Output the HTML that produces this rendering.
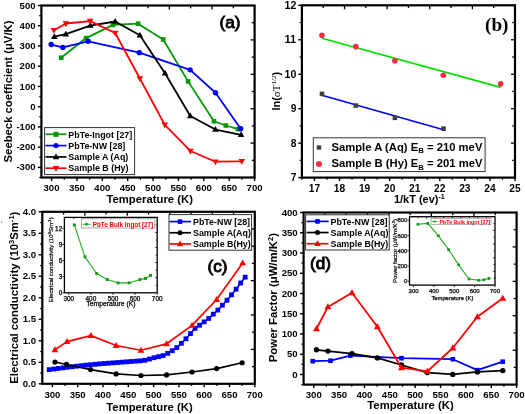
<!DOCTYPE html>
<html><head><meta charset="utf-8"><style>
html,body{margin:0;padding:0;background:#fff;overflow:hidden;width:525px;height:414px;}
svg{display:block;filter:blur(0.3px);}
</style></head><body>
<svg width="525" height="414" viewBox="0 0 525 414">
<rect width="525" height="414" fill="#fff"/>
<line x1="41.4" y1="177.5" x2="39.2" y2="177.5" stroke="#000" stroke-width="1.2" />
<line x1="41.4" y1="167.38" x2="37.8" y2="167.38" stroke="#000" stroke-width="1.4" />
<text x="35.6" y="170.48" font-family="Liberation Sans, sans-serif" font-size="9.6" font-weight="bold" text-anchor="end" fill="#000" >-300</text>
<line x1="41.4" y1="157.26" x2="39.2" y2="157.26" stroke="#000" stroke-width="1.2" />
<line x1="41.4" y1="147.15" x2="37.8" y2="147.15" stroke="#000" stroke-width="1.4" />
<text x="35.6" y="150.25" font-family="Liberation Sans, sans-serif" font-size="9.6" font-weight="bold" text-anchor="end" fill="#000" >-200</text>
<line x1="41.4" y1="137.03" x2="39.2" y2="137.03" stroke="#000" stroke-width="1.2" />
<line x1="41.4" y1="126.91" x2="37.8" y2="126.91" stroke="#000" stroke-width="1.4" />
<text x="35.6" y="130.01" font-family="Liberation Sans, sans-serif" font-size="9.6" font-weight="bold" text-anchor="end" fill="#000" >-100</text>
<line x1="41.4" y1="116.79" x2="39.2" y2="116.79" stroke="#000" stroke-width="1.2" />
<line x1="41.4" y1="106.68" x2="37.8" y2="106.68" stroke="#000" stroke-width="1.4" />
<text x="35.6" y="109.78" font-family="Liberation Sans, sans-serif" font-size="9.6" font-weight="bold" text-anchor="end" fill="#000" >0</text>
<line x1="41.4" y1="96.56" x2="39.2" y2="96.56" stroke="#000" stroke-width="1.2" />
<line x1="41.4" y1="86.44" x2="37.8" y2="86.44" stroke="#000" stroke-width="1.4" />
<text x="35.6" y="89.54" font-family="Liberation Sans, sans-serif" font-size="9.6" font-weight="bold" text-anchor="end" fill="#000" >100</text>
<line x1="41.4" y1="76.32" x2="39.2" y2="76.32" stroke="#000" stroke-width="1.2" />
<line x1="41.4" y1="66.21" x2="37.8" y2="66.21" stroke="#000" stroke-width="1.4" />
<text x="35.6" y="69.31" font-family="Liberation Sans, sans-serif" font-size="9.6" font-weight="bold" text-anchor="end" fill="#000" >200</text>
<line x1="41.4" y1="56.09" x2="39.2" y2="56.09" stroke="#000" stroke-width="1.2" />
<line x1="41.4" y1="45.97" x2="37.8" y2="45.97" stroke="#000" stroke-width="1.4" />
<text x="35.6" y="49.07" font-family="Liberation Sans, sans-serif" font-size="9.6" font-weight="bold" text-anchor="end" fill="#000" >300</text>
<line x1="41.4" y1="35.85" x2="39.2" y2="35.85" stroke="#000" stroke-width="1.2" />
<line x1="41.4" y1="25.74" x2="37.8" y2="25.74" stroke="#000" stroke-width="1.4" />
<text x="35.6" y="28.84" font-family="Liberation Sans, sans-serif" font-size="9.6" font-weight="bold" text-anchor="end" fill="#000" >400</text>
<line x1="41.4" y1="15.62" x2="39.2" y2="15.62" stroke="#000" stroke-width="1.2" />
<line x1="41.4" y1="5.5" x2="37.8" y2="5.5" stroke="#000" stroke-width="1.4" />
<text x="35.6" y="8.6" font-family="Liberation Sans, sans-serif" font-size="9.6" font-weight="bold" text-anchor="end" fill="#000" >500</text>
<line x1="51.55" y1="177.5" x2="51.55" y2="180.9" stroke="#000" stroke-width="1.4" />
<text x="51.55" y="190.8" font-family="Liberation Sans, sans-serif" font-size="9.6" font-weight="bold" text-anchor="middle" fill="#000" >300</text>
<line x1="64.24" y1="177.5" x2="64.24" y2="179.7" stroke="#000" stroke-width="1.2" />
<line x1="76.93" y1="177.5" x2="76.93" y2="180.9" stroke="#000" stroke-width="1.4" />
<text x="76.93" y="190.8" font-family="Liberation Sans, sans-serif" font-size="9.6" font-weight="bold" text-anchor="middle" fill="#000" >350</text>
<line x1="89.62" y1="177.5" x2="89.62" y2="179.7" stroke="#000" stroke-width="1.2" />
<line x1="102.31" y1="177.5" x2="102.31" y2="180.9" stroke="#000" stroke-width="1.4" />
<text x="102.31" y="190.8" font-family="Liberation Sans, sans-serif" font-size="9.6" font-weight="bold" text-anchor="middle" fill="#000" >400</text>
<line x1="115" y1="177.5" x2="115" y2="179.7" stroke="#000" stroke-width="1.2" />
<line x1="127.7" y1="177.5" x2="127.7" y2="180.9" stroke="#000" stroke-width="1.4" />
<text x="127.7" y="190.8" font-family="Liberation Sans, sans-serif" font-size="9.6" font-weight="bold" text-anchor="middle" fill="#000" >450</text>
<line x1="140.39" y1="177.5" x2="140.39" y2="179.7" stroke="#000" stroke-width="1.2" />
<line x1="153.08" y1="177.5" x2="153.08" y2="180.9" stroke="#000" stroke-width="1.4" />
<text x="153.08" y="190.8" font-family="Liberation Sans, sans-serif" font-size="9.6" font-weight="bold" text-anchor="middle" fill="#000" >500</text>
<line x1="165.77" y1="177.5" x2="165.77" y2="179.7" stroke="#000" stroke-width="1.2" />
<line x1="178.46" y1="177.5" x2="178.46" y2="180.9" stroke="#000" stroke-width="1.4" />
<text x="178.46" y="190.8" font-family="Liberation Sans, sans-serif" font-size="9.6" font-weight="bold" text-anchor="middle" fill="#000" >550</text>
<line x1="191.15" y1="177.5" x2="191.15" y2="179.7" stroke="#000" stroke-width="1.2" />
<line x1="203.84" y1="177.5" x2="203.84" y2="180.9" stroke="#000" stroke-width="1.4" />
<text x="203.84" y="190.8" font-family="Liberation Sans, sans-serif" font-size="9.6" font-weight="bold" text-anchor="middle" fill="#000" >600</text>
<line x1="216.53" y1="177.5" x2="216.53" y2="179.7" stroke="#000" stroke-width="1.2" />
<line x1="229.22" y1="177.5" x2="229.22" y2="180.9" stroke="#000" stroke-width="1.4" />
<text x="229.22" y="190.8" font-family="Liberation Sans, sans-serif" font-size="9.6" font-weight="bold" text-anchor="middle" fill="#000" >650</text>
<line x1="241.91" y1="177.5" x2="241.91" y2="179.7" stroke="#000" stroke-width="1.2" />
<line x1="254.6" y1="177.5" x2="254.6" y2="180.9" stroke="#000" stroke-width="1.4" />
<text x="254.6" y="190.8" font-family="Liberation Sans, sans-serif" font-size="9.6" font-weight="bold" text-anchor="middle" fill="#000" >700</text>
<line x1="62.72" y1="5.5" x2="62.72" y2="8.3" stroke="#000" stroke-width="1.3" />
<line x1="84.04" y1="5.5" x2="84.04" y2="9.5" stroke="#000" stroke-width="1.3" />
<line x1="105.36" y1="5.5" x2="105.36" y2="8.3" stroke="#000" stroke-width="1.3" />
<line x1="126.68" y1="5.5" x2="126.68" y2="9.5" stroke="#000" stroke-width="1.3" />
<line x1="148" y1="5.5" x2="148" y2="8.3" stroke="#000" stroke-width="1.3" />
<line x1="169.32" y1="5.5" x2="169.32" y2="9.5" stroke="#000" stroke-width="1.3" />
<line x1="190.64" y1="5.5" x2="190.64" y2="8.3" stroke="#000" stroke-width="1.3" />
<line x1="211.96" y1="5.5" x2="211.96" y2="9.5" stroke="#000" stroke-width="1.3" />
<line x1="233.28" y1="5.5" x2="233.28" y2="8.3" stroke="#000" stroke-width="1.3" />
<line x1="254.6" y1="22.7" x2="251.8" y2="22.7" stroke="#000" stroke-width="1.3" />
<line x1="254.6" y1="39.9" x2="250.6" y2="39.9" stroke="#000" stroke-width="1.3" />
<line x1="254.6" y1="57.1" x2="251.8" y2="57.1" stroke="#000" stroke-width="1.3" />
<line x1="254.6" y1="74.3" x2="250.6" y2="74.3" stroke="#000" stroke-width="1.3" />
<line x1="254.6" y1="91.5" x2="251.8" y2="91.5" stroke="#000" stroke-width="1.3" />
<line x1="254.6" y1="108.7" x2="250.6" y2="108.7" stroke="#000" stroke-width="1.3" />
<line x1="254.6" y1="125.9" x2="251.8" y2="125.9" stroke="#000" stroke-width="1.3" />
<line x1="254.6" y1="143.1" x2="250.6" y2="143.1" stroke="#000" stroke-width="1.3" />
<line x1="254.6" y1="160.3" x2="251.8" y2="160.3" stroke="#000" stroke-width="1.3" />
<rect x="41.4" y="5.5" width="213.2" height="172" fill="none" stroke="#000" stroke-width="2.2"/>
<polyline points="61.2,57.71 86.07,38.08 112.97,24.93 138.1,23.71 163.23,39.5 188.1,81.38 213.99,121.25 225.82,125.5 238,129.14" fill="none" stroke="#009900" stroke-width="1.8" stroke-linejoin="round"/>
<rect x="58.9" y="55.41" width="4.6" height="4.6" fill="#009900"/>
<rect x="83.77" y="35.78" width="4.6" height="4.6" fill="#009900"/>
<rect x="110.67" y="22.63" width="4.6" height="4.6" fill="#009900"/>
<rect x="135.8" y="21.41" width="4.6" height="4.6" fill="#009900"/>
<rect x="160.93" y="37.2" width="4.6" height="4.6" fill="#009900"/>
<rect x="185.8" y="79.08" width="4.6" height="4.6" fill="#009900"/>
<rect x="211.69" y="118.95" width="4.6" height="4.6" fill="#009900"/>
<rect x="223.52" y="123.2" width="4.6" height="4.6" fill="#009900"/>
<rect x="235.7" y="126.84" width="4.6" height="4.6" fill="#009900"/>
<polyline points="51.2,44.55 62.82,47.39 88.1,41.32 139.37,52.65 190.13,69.85 215.51,92.71 240.69,128.73" fill="none" stroke="#0000ff" stroke-width="1.8" stroke-linejoin="round"/>
<circle cx="51.2" cy="44.55" r="2.7" fill="#0000ff"/>
<circle cx="62.82" cy="47.39" r="2.7" fill="#0000ff"/>
<circle cx="88.1" cy="41.32" r="2.7" fill="#0000ff"/>
<circle cx="139.37" cy="52.65" r="2.7" fill="#0000ff"/>
<circle cx="190.13" cy="69.85" r="2.7" fill="#0000ff"/>
<circle cx="215.51" cy="92.71" r="2.7" fill="#0000ff"/>
<circle cx="240.69" cy="128.73" r="2.7" fill="#0000ff"/>
<polyline points="54.29,36.66 65.77,34.11 90.33,25.53 115.16,21.49 139.88,35.25 165.01,73.29 190.28,115.98 215.46,129.54 241.1,134.8" fill="none" stroke="#000000" stroke-width="1.8" stroke-linejoin="round"/>
<polygon points="54.29,33.22 57.59,38.96 50.99,38.96" fill="#000000"/>
<polygon points="65.77,30.67 69.07,36.41 62.47,36.41" fill="#000000"/>
<polygon points="90.33,22.09 93.63,27.83 87.03,27.83" fill="#000000"/>
<polygon points="115.16,18.04 118.46,23.78 111.86,23.78" fill="#000000"/>
<polygon points="139.88,31.8 143.18,37.54 136.58,37.54" fill="#000000"/>
<polygon points="165.01,69.84 168.31,75.59 161.71,75.59" fill="#000000"/>
<polygon points="190.28,112.54 193.58,118.28 186.98,118.28" fill="#000000"/>
<polygon points="215.46,126.1 218.76,131.84 212.16,131.84" fill="#000000"/>
<polygon points="241.1,131.36 244.4,137.1 237.8,137.1" fill="#000000"/>
<polyline points="53.89,30.19 65.92,23.51 90.13,21.08 115.16,33.02 139.88,78.55 164.8,124.89 190.39,150.99 215.46,161.72 241.76,161.31" fill="none" stroke="#ff0000" stroke-width="1.8" stroke-linejoin="round"/>
<polygon points="53.89,33.63 57.19,27.89 50.59,27.89" fill="#ff0000"/>
<polygon points="65.92,26.95 69.22,21.21 62.62,21.21" fill="#ff0000"/>
<polygon points="90.13,24.53 93.43,18.78 86.83,18.78" fill="#ff0000"/>
<polygon points="115.16,36.47 118.46,30.72 111.86,30.72" fill="#ff0000"/>
<polygon points="139.88,81.99 143.18,76.25 136.58,76.25" fill="#ff0000"/>
<polygon points="164.8,128.33 168.1,122.59 161.5,122.59" fill="#ff0000"/>
<polygon points="190.39,154.44 193.69,148.69 187.09,148.69" fill="#ff0000"/>
<polygon points="215.46,165.16 218.76,159.42 212.16,159.42" fill="#ff0000"/>
<polygon points="241.76,164.76 245.06,159.01 238.46,159.01" fill="#ff0000"/>
<rect x="44.6" y="127.6" width="90" height="47" fill="#fff" stroke="#333" stroke-width="1"/>
<line x1="45.5" y1="134.3" x2="66.5" y2="134.3" stroke="#009900" stroke-width="1.7" />
<rect x="53.5" y="131.8" width="5" height="5" fill="#009900"/>
<text x="68.3" y="137.5" font-family="Liberation Sans, sans-serif" font-size="8.9" font-weight="bold" text-anchor="start" fill="#000" >PbTe-Ingot [27]</text>
<line x1="45.5" y1="145.6" x2="66.5" y2="145.6" stroke="#0000ff" stroke-width="1.7" />
<circle cx="56" cy="145.6" r="2.6" fill="#0000ff"/>
<text x="68.3" y="148.8" font-family="Liberation Sans, sans-serif" font-size="8.9" font-weight="bold" text-anchor="start" fill="#000" >PbTe-NW [28]</text>
<line x1="45.5" y1="156.9" x2="66.5" y2="156.9" stroke="#000000" stroke-width="1.7" />
<polygon points="56,153.45 59.3,159.2 52.7,159.2" fill="#000000"/>
<text x="68.3" y="160.1" font-family="Liberation Sans, sans-serif" font-size="8.9" font-weight="bold" text-anchor="start" fill="#000" >Sample A (Aq)</text>
<line x1="45.5" y1="168.2" x2="66.5" y2="168.2" stroke="#ff0000" stroke-width="1.7" />
<polygon points="56,171.65 59.3,165.9 52.7,165.9" fill="#ff0000"/>
<text x="68.3" y="171.4" font-family="Liberation Sans, sans-serif" font-size="8.9" font-weight="bold" text-anchor="start" fill="#000" >Sample B (Hy)</text>
<text x="149.7" y="202.8" font-family="Liberation Sans, sans-serif" font-size="11.3" font-weight="bold" text-anchor="middle" fill="#000" >Temperature (K)</text>
<text x="12.2" y="91.5" font-family="Liberation Sans, sans-serif" font-size="11.3" font-weight="bold" text-anchor="middle" fill="#000" transform="rotate(-90 12.2 91.5)" >Seebeck coefficient (μV/K)</text>
<text x="230" y="28.4" font-family="Liberation Sans, sans-serif" font-size="17.2" font-weight="normal" text-anchor="middle" fill="#000" stroke="#000" stroke-width="0.9">(a)</text>
<line x1="301.9" y1="177.6" x2="298.3" y2="177.6" stroke="#000" stroke-width="1.4" />
<text x="296.3" y="181.2" font-family="Liberation Sans, sans-serif" font-size="10.2" font-weight="bold" text-anchor="end" fill="#000" >7</text>
<line x1="301.9" y1="160.37" x2="299.7" y2="160.37" stroke="#000" stroke-width="1.2" />
<line x1="301.9" y1="143.14" x2="298.3" y2="143.14" stroke="#000" stroke-width="1.4" />
<text x="296.3" y="146.74" font-family="Liberation Sans, sans-serif" font-size="10.2" font-weight="bold" text-anchor="end" fill="#000" >8</text>
<line x1="301.9" y1="125.91" x2="299.7" y2="125.91" stroke="#000" stroke-width="1.2" />
<line x1="301.9" y1="108.68" x2="298.3" y2="108.68" stroke="#000" stroke-width="1.4" />
<text x="296.3" y="112.28" font-family="Liberation Sans, sans-serif" font-size="10.2" font-weight="bold" text-anchor="end" fill="#000" >9</text>
<line x1="301.9" y1="91.45" x2="299.7" y2="91.45" stroke="#000" stroke-width="1.2" />
<line x1="301.9" y1="74.22" x2="298.3" y2="74.22" stroke="#000" stroke-width="1.4" />
<text x="296.3" y="77.82" font-family="Liberation Sans, sans-serif" font-size="10.2" font-weight="bold" text-anchor="end" fill="#000"  textLength="11.8" lengthAdjust="spacingAndGlyphs">10</text>
<line x1="301.9" y1="56.99" x2="299.7" y2="56.99" stroke="#000" stroke-width="1.2" />
<line x1="301.9" y1="39.76" x2="298.3" y2="39.76" stroke="#000" stroke-width="1.4" />
<text x="296.3" y="43.36" font-family="Liberation Sans, sans-serif" font-size="10.2" font-weight="bold" text-anchor="end" fill="#000"  textLength="11.8" lengthAdjust="spacingAndGlyphs">11</text>
<line x1="301.9" y1="22.53" x2="299.7" y2="22.53" stroke="#000" stroke-width="1.2" />
<line x1="301.9" y1="5.3" x2="298.3" y2="5.3" stroke="#000" stroke-width="1.4" />
<text x="296.3" y="8.9" font-family="Liberation Sans, sans-serif" font-size="10.2" font-weight="bold" text-anchor="end" fill="#000"  textLength="11.8" lengthAdjust="spacingAndGlyphs">12</text>
<line x1="301.9" y1="177.6" x2="301.9" y2="179.8" stroke="#000" stroke-width="1.2" />
<line x1="314.44" y1="177.6" x2="314.44" y2="181" stroke="#000" stroke-width="1.4" />
<text x="314.44" y="191.6" font-family="Liberation Sans, sans-serif" font-size="10.2" font-weight="bold" text-anchor="middle" fill="#000" >17</text>
<line x1="326.97" y1="177.6" x2="326.97" y2="179.8" stroke="#000" stroke-width="1.2" />
<line x1="339.51" y1="177.6" x2="339.51" y2="181" stroke="#000" stroke-width="1.4" />
<text x="339.51" y="191.6" font-family="Liberation Sans, sans-serif" font-size="10.2" font-weight="bold" text-anchor="middle" fill="#000" >18</text>
<line x1="352.04" y1="177.6" x2="352.04" y2="179.8" stroke="#000" stroke-width="1.2" />
<line x1="364.58" y1="177.6" x2="364.58" y2="181" stroke="#000" stroke-width="1.4" />
<text x="364.58" y="191.6" font-family="Liberation Sans, sans-serif" font-size="10.2" font-weight="bold" text-anchor="middle" fill="#000" >19</text>
<line x1="377.11" y1="177.6" x2="377.11" y2="179.8" stroke="#000" stroke-width="1.2" />
<line x1="389.65" y1="177.6" x2="389.65" y2="181" stroke="#000" stroke-width="1.4" />
<text x="389.65" y="191.6" font-family="Liberation Sans, sans-serif" font-size="10.2" font-weight="bold" text-anchor="middle" fill="#000" >20</text>
<line x1="402.18" y1="177.6" x2="402.18" y2="179.8" stroke="#000" stroke-width="1.2" />
<line x1="414.72" y1="177.6" x2="414.72" y2="181" stroke="#000" stroke-width="1.4" />
<text x="414.72" y="191.6" font-family="Liberation Sans, sans-serif" font-size="10.2" font-weight="bold" text-anchor="middle" fill="#000" >21</text>
<line x1="427.25" y1="177.6" x2="427.25" y2="179.8" stroke="#000" stroke-width="1.2" />
<line x1="439.79" y1="177.6" x2="439.79" y2="181" stroke="#000" stroke-width="1.4" />
<text x="439.79" y="191.6" font-family="Liberation Sans, sans-serif" font-size="10.2" font-weight="bold" text-anchor="middle" fill="#000" >22</text>
<line x1="452.32" y1="177.6" x2="452.32" y2="179.8" stroke="#000" stroke-width="1.2" />
<line x1="464.86" y1="177.6" x2="464.86" y2="181" stroke="#000" stroke-width="1.4" />
<text x="464.86" y="191.6" font-family="Liberation Sans, sans-serif" font-size="10.2" font-weight="bold" text-anchor="middle" fill="#000" >23</text>
<line x1="477.39" y1="177.6" x2="477.39" y2="179.8" stroke="#000" stroke-width="1.2" />
<line x1="489.93" y1="177.6" x2="489.93" y2="181" stroke="#000" stroke-width="1.4" />
<text x="489.93" y="191.6" font-family="Liberation Sans, sans-serif" font-size="10.2" font-weight="bold" text-anchor="middle" fill="#000" >24</text>
<line x1="502.46" y1="177.6" x2="502.46" y2="179.8" stroke="#000" stroke-width="1.2" />
<line x1="515" y1="177.6" x2="515" y2="181" stroke="#000" stroke-width="1.4" />
<text x="515" y="191.6" font-family="Liberation Sans, sans-serif" font-size="10.2" font-weight="bold" text-anchor="middle" fill="#000" >25</text>
<line x1="323.21" y1="5.3" x2="323.21" y2="8.1" stroke="#000" stroke-width="1.3" />
<line x1="344.52" y1="5.3" x2="344.52" y2="9.3" stroke="#000" stroke-width="1.3" />
<line x1="365.83" y1="5.3" x2="365.83" y2="8.1" stroke="#000" stroke-width="1.3" />
<line x1="387.14" y1="5.3" x2="387.14" y2="9.3" stroke="#000" stroke-width="1.3" />
<line x1="408.45" y1="5.3" x2="408.45" y2="8.1" stroke="#000" stroke-width="1.3" />
<line x1="429.76" y1="5.3" x2="429.76" y2="9.3" stroke="#000" stroke-width="1.3" />
<line x1="451.07" y1="5.3" x2="451.07" y2="8.1" stroke="#000" stroke-width="1.3" />
<line x1="472.38" y1="5.3" x2="472.38" y2="9.3" stroke="#000" stroke-width="1.3" />
<line x1="493.69" y1="5.3" x2="493.69" y2="8.1" stroke="#000" stroke-width="1.3" />
<line x1="515" y1="22.53" x2="512.2" y2="22.53" stroke="#000" stroke-width="1.3" />
<line x1="515" y1="39.76" x2="511" y2="39.76" stroke="#000" stroke-width="1.3" />
<line x1="515" y1="56.99" x2="512.2" y2="56.99" stroke="#000" stroke-width="1.3" />
<line x1="515" y1="74.22" x2="511" y2="74.22" stroke="#000" stroke-width="1.3" />
<line x1="515" y1="91.45" x2="512.2" y2="91.45" stroke="#000" stroke-width="1.3" />
<line x1="515" y1="108.68" x2="511" y2="108.68" stroke="#000" stroke-width="1.3" />
<line x1="515" y1="125.91" x2="512.2" y2="125.91" stroke="#000" stroke-width="1.3" />
<line x1="515" y1="143.14" x2="511" y2="143.14" stroke="#000" stroke-width="1.3" />
<line x1="515" y1="160.37" x2="512.2" y2="160.37" stroke="#000" stroke-width="1.3" />
<rect x="301.9" y="5.3" width="213.1" height="172.3" fill="none" stroke="#000" stroke-width="2.2"/>
<line x1="321.96" y1="38.21" x2="500.71" y2="87.31" stroke="#00e000" stroke-width="1.7" />
<line x1="321.96" y1="95.24" x2="443.55" y2="129.7" stroke="#0000ff" stroke-width="1.7" />
<circle cx="321.96" cy="35.28" r="2.8" fill="#f03040"/>
<circle cx="355.8" cy="46.65" r="2.8" fill="#f03040"/>
<circle cx="394.91" cy="60.78" r="2.8" fill="#f03040"/>
<circle cx="443.3" cy="75.25" r="2.8" fill="#f03040"/>
<circle cx="500.71" cy="83.87" r="2.8" fill="#f03040"/>
<rect x="319.66" y="91.56" width="4.6" height="4.6" fill="#404040"/>
<rect x="353.5" y="103.28" width="4.6" height="4.6" fill="#404040"/>
<rect x="392.61" y="115.51" width="4.6" height="4.6" fill="#404040"/>
<rect x="441.25" y="126.37" width="4.6" height="4.6" fill="#404040"/>
<rect x="313.3" y="137.8" width="171.8" height="33.8" fill="#fff" stroke="#333" stroke-width="1"/>
<rect x="316.8" y="145.3" width="4.4" height="4.4" fill="#404040"/>
<circle cx="319" cy="164" r="3" fill="#f03040"/>
<text x="331.4" y="150.6" font-family="Liberation Sans, sans-serif" font-size="10.8" font-weight="bold" text-anchor="start" fill="#000"  textLength="151" lengthAdjust="spacingAndGlyphs">Sample A (Aq) E<tspan font-size="7.5" dy="2.5">B</tspan><tspan dy="-2.5"> = 210 meV</tspan></text>
<text x="331.4" y="167.2" font-family="Liberation Sans, sans-serif" font-size="10.8" font-weight="bold" text-anchor="start" fill="#000"  textLength="151" lengthAdjust="spacingAndGlyphs">Sample B (Hy) E<tspan font-size="7.5" dy="2.5">B</tspan><tspan dy="-2.5"> = 201 meV</tspan></text>
<text x="393.9" y="202.9" font-family="Liberation Sans, sans-serif" font-size="10" font-weight="bold" text-anchor="start" fill="#000"  textLength="50.9" lengthAdjust="spacingAndGlyphs">1/kT (ev)<tspan font-size="6.5" dy="-4">-1</tspan></text>
<text x="279.6" y="91.2" font-family="Liberation Sans, sans-serif" font-size="11" font-weight="bold" text-anchor="middle" fill="#000" transform="rotate(-90 279.6 91.2)" >ln(<tspan font-family="Liberation Serif, serif" font-weight="normal">σT<tspan font-size="7" dy="-4">1/2</tspan></tspan><tspan dy="4">)</tspan></text>
<text x="496.8" y="30.6" font-family="Liberation Serif, serif" font-size="19.2" font-weight="bold" text-anchor="middle" fill="#000" >(b)</text>
<line x1="42.3" y1="383.8" x2="38.7" y2="383.8" stroke="#000" stroke-width="1.4" />
<text x="36" y="386.7" font-family="Liberation Sans, sans-serif" font-size="9.6" font-weight="bold" text-anchor="end" fill="#000" >0.0</text>
<line x1="42.3" y1="373.05" x2="40.1" y2="373.05" stroke="#000" stroke-width="1.2" />
<line x1="42.3" y1="362.3" x2="38.7" y2="362.3" stroke="#000" stroke-width="1.4" />
<text x="36" y="365.2" font-family="Liberation Sans, sans-serif" font-size="9.6" font-weight="bold" text-anchor="end" fill="#000" >0.5</text>
<line x1="42.3" y1="351.55" x2="40.1" y2="351.55" stroke="#000" stroke-width="1.2" />
<line x1="42.3" y1="340.8" x2="38.7" y2="340.8" stroke="#000" stroke-width="1.4" />
<text x="36" y="343.7" font-family="Liberation Sans, sans-serif" font-size="9.6" font-weight="bold" text-anchor="end" fill="#000" >1.0</text>
<line x1="42.3" y1="330.05" x2="40.1" y2="330.05" stroke="#000" stroke-width="1.2" />
<line x1="42.3" y1="319.3" x2="38.7" y2="319.3" stroke="#000" stroke-width="1.4" />
<text x="36" y="322.2" font-family="Liberation Sans, sans-serif" font-size="9.6" font-weight="bold" text-anchor="end" fill="#000" >1.5</text>
<line x1="42.3" y1="308.55" x2="40.1" y2="308.55" stroke="#000" stroke-width="1.2" />
<line x1="42.3" y1="297.8" x2="38.7" y2="297.8" stroke="#000" stroke-width="1.4" />
<text x="36" y="300.7" font-family="Liberation Sans, sans-serif" font-size="9.6" font-weight="bold" text-anchor="end" fill="#000" >2.0</text>
<line x1="42.3" y1="287.05" x2="40.1" y2="287.05" stroke="#000" stroke-width="1.2" />
<line x1="42.3" y1="276.3" x2="38.7" y2="276.3" stroke="#000" stroke-width="1.4" />
<text x="36" y="279.2" font-family="Liberation Sans, sans-serif" font-size="9.6" font-weight="bold" text-anchor="end" fill="#000" >2.5</text>
<line x1="42.3" y1="265.55" x2="40.1" y2="265.55" stroke="#000" stroke-width="1.2" />
<line x1="42.3" y1="254.8" x2="38.7" y2="254.8" stroke="#000" stroke-width="1.4" />
<text x="36" y="257.7" font-family="Liberation Sans, sans-serif" font-size="9.6" font-weight="bold" text-anchor="end" fill="#000" >3.0</text>
<line x1="42.3" y1="244.05" x2="40.1" y2="244.05" stroke="#000" stroke-width="1.2" />
<line x1="42.3" y1="233.3" x2="38.7" y2="233.3" stroke="#000" stroke-width="1.4" />
<text x="36" y="236.2" font-family="Liberation Sans, sans-serif" font-size="9.6" font-weight="bold" text-anchor="end" fill="#000" >3.5</text>
<line x1="42.3" y1="222.55" x2="40.1" y2="222.55" stroke="#000" stroke-width="1.2" />
<line x1="42.3" y1="211.8" x2="38.7" y2="211.8" stroke="#000" stroke-width="1.4" />
<text x="36" y="214.7" font-family="Liberation Sans, sans-serif" font-size="9.6" font-weight="bold" text-anchor="end" fill="#000" >4.0</text>
<line x1="52.42" y1="383.8" x2="52.42" y2="387.2" stroke="#000" stroke-width="1.4" />
<text x="52.42" y="397.6" font-family="Liberation Sans, sans-serif" font-size="9.6" font-weight="bold" text-anchor="middle" fill="#000" >300</text>
<line x1="65.07" y1="383.8" x2="65.07" y2="386" stroke="#000" stroke-width="1.2" />
<line x1="77.72" y1="383.8" x2="77.72" y2="387.2" stroke="#000" stroke-width="1.4" />
<text x="77.72" y="397.6" font-family="Liberation Sans, sans-serif" font-size="9.6" font-weight="bold" text-anchor="middle" fill="#000" >350</text>
<line x1="90.37" y1="383.8" x2="90.37" y2="386" stroke="#000" stroke-width="1.2" />
<line x1="103.01" y1="383.8" x2="103.01" y2="387.2" stroke="#000" stroke-width="1.4" />
<text x="103.01" y="397.6" font-family="Liberation Sans, sans-serif" font-size="9.6" font-weight="bold" text-anchor="middle" fill="#000" >400</text>
<line x1="115.66" y1="383.8" x2="115.66" y2="386" stroke="#000" stroke-width="1.2" />
<line x1="128.31" y1="383.8" x2="128.31" y2="387.2" stroke="#000" stroke-width="1.4" />
<text x="128.31" y="397.6" font-family="Liberation Sans, sans-serif" font-size="9.6" font-weight="bold" text-anchor="middle" fill="#000" >450</text>
<line x1="140.96" y1="383.8" x2="140.96" y2="386" stroke="#000" stroke-width="1.2" />
<line x1="153.61" y1="383.8" x2="153.61" y2="387.2" stroke="#000" stroke-width="1.4" />
<text x="153.61" y="397.6" font-family="Liberation Sans, sans-serif" font-size="9.6" font-weight="bold" text-anchor="middle" fill="#000" >500</text>
<line x1="166.26" y1="383.8" x2="166.26" y2="386" stroke="#000" stroke-width="1.2" />
<line x1="178.91" y1="383.8" x2="178.91" y2="387.2" stroke="#000" stroke-width="1.4" />
<text x="178.91" y="397.6" font-family="Liberation Sans, sans-serif" font-size="9.6" font-weight="bold" text-anchor="middle" fill="#000" >550</text>
<line x1="191.56" y1="383.8" x2="191.56" y2="386" stroke="#000" stroke-width="1.2" />
<line x1="204.2" y1="383.8" x2="204.2" y2="387.2" stroke="#000" stroke-width="1.4" />
<text x="204.2" y="397.6" font-family="Liberation Sans, sans-serif" font-size="9.6" font-weight="bold" text-anchor="middle" fill="#000" >600</text>
<line x1="216.85" y1="383.8" x2="216.85" y2="386" stroke="#000" stroke-width="1.2" />
<line x1="229.5" y1="383.8" x2="229.5" y2="387.2" stroke="#000" stroke-width="1.4" />
<text x="229.5" y="397.6" font-family="Liberation Sans, sans-serif" font-size="9.6" font-weight="bold" text-anchor="middle" fill="#000" >650</text>
<line x1="242.15" y1="383.8" x2="242.15" y2="386" stroke="#000" stroke-width="1.2" />
<line x1="254.8" y1="383.8" x2="254.8" y2="387.2" stroke="#000" stroke-width="1.4" />
<text x="254.8" y="397.6" font-family="Liberation Sans, sans-serif" font-size="9.6" font-weight="bold" text-anchor="middle" fill="#000" >700</text>
<line x1="63.55" y1="211.8" x2="63.55" y2="214.6" stroke="#000" stroke-width="1.3" />
<line x1="84.8" y1="211.8" x2="84.8" y2="215.8" stroke="#000" stroke-width="1.3" />
<line x1="106.05" y1="211.8" x2="106.05" y2="214.6" stroke="#000" stroke-width="1.3" />
<line x1="127.3" y1="211.8" x2="127.3" y2="215.8" stroke="#000" stroke-width="1.3" />
<line x1="148.55" y1="211.8" x2="148.55" y2="214.6" stroke="#000" stroke-width="1.3" />
<line x1="169.8" y1="211.8" x2="169.8" y2="215.8" stroke="#000" stroke-width="1.3" />
<line x1="191.05" y1="211.8" x2="191.05" y2="214.6" stroke="#000" stroke-width="1.3" />
<line x1="212.3" y1="211.8" x2="212.3" y2="215.8" stroke="#000" stroke-width="1.3" />
<line x1="233.55" y1="211.8" x2="233.55" y2="214.6" stroke="#000" stroke-width="1.3" />
<line x1="254.8" y1="229" x2="252" y2="229" stroke="#000" stroke-width="1.3" />
<line x1="254.8" y1="246.2" x2="250.8" y2="246.2" stroke="#000" stroke-width="1.3" />
<line x1="254.8" y1="263.4" x2="252" y2="263.4" stroke="#000" stroke-width="1.3" />
<line x1="254.8" y1="280.6" x2="250.8" y2="280.6" stroke="#000" stroke-width="1.3" />
<line x1="254.8" y1="297.8" x2="252" y2="297.8" stroke="#000" stroke-width="1.3" />
<line x1="254.8" y1="315" x2="250.8" y2="315" stroke="#000" stroke-width="1.3" />
<line x1="254.8" y1="332.2" x2="252" y2="332.2" stroke="#000" stroke-width="1.3" />
<line x1="254.8" y1="349.4" x2="250.8" y2="349.4" stroke="#000" stroke-width="1.3" />
<line x1="254.8" y1="366.6" x2="252" y2="366.6" stroke="#000" stroke-width="1.3" />
<rect x="42.3" y="211.8" width="212.5" height="172" fill="none" stroke="#000" stroke-width="2.2"/>
<polyline points="49.18,369.61 53.74,369.02 58.3,368.44 62.86,367.85 67.41,367.27 71.97,366.73 76.53,366.19 81.09,365.66 85.65,365.16 90.21,364.74 94.76,364.32 99.32,363.89 103.88,363.53 108.44,363.19 113,362.85 117.56,362.5 122.11,362.16 126.67,361.83 131.23,361.5 135.79,361.17 140.35,360.84 144.9,360.32 149.46,359.02 154.02,357.73 158.58,356.66 163.14,355.6 167.7,353.36 172.25,350.68 176.81,347.57 181.37,343.28 185.93,338.77 190.49,333.58 195.05,328.36 199.6,325.19 204.16,321.88 208.72,318.4 213.28,314.15 217.84,310.08 222.4,305.18 226.95,300.23 231.51,294.86 236.07,289.21 240.63,282.99 245.19,277.16" fill="none" stroke="#0000ff" stroke-width="1.6" stroke-linejoin="round"/>
<rect x="46.78" y="367.21" width="4.8" height="4.8" fill="#0000ff"/>
<rect x="51.34" y="366.62" width="4.8" height="4.8" fill="#0000ff"/>
<rect x="55.9" y="366.04" width="4.8" height="4.8" fill="#0000ff"/>
<rect x="60.46" y="365.45" width="4.8" height="4.8" fill="#0000ff"/>
<rect x="65.01" y="364.87" width="4.8" height="4.8" fill="#0000ff"/>
<rect x="69.57" y="364.33" width="4.8" height="4.8" fill="#0000ff"/>
<rect x="74.13" y="363.79" width="4.8" height="4.8" fill="#0000ff"/>
<rect x="78.69" y="363.26" width="4.8" height="4.8" fill="#0000ff"/>
<rect x="83.25" y="362.76" width="4.8" height="4.8" fill="#0000ff"/>
<rect x="87.81" y="362.34" width="4.8" height="4.8" fill="#0000ff"/>
<rect x="92.36" y="361.92" width="4.8" height="4.8" fill="#0000ff"/>
<rect x="96.92" y="361.49" width="4.8" height="4.8" fill="#0000ff"/>
<rect x="101.48" y="361.13" width="4.8" height="4.8" fill="#0000ff"/>
<rect x="106.04" y="360.79" width="4.8" height="4.8" fill="#0000ff"/>
<rect x="110.6" y="360.45" width="4.8" height="4.8" fill="#0000ff"/>
<rect x="115.16" y="360.1" width="4.8" height="4.8" fill="#0000ff"/>
<rect x="119.71" y="359.76" width="4.8" height="4.8" fill="#0000ff"/>
<rect x="124.27" y="359.43" width="4.8" height="4.8" fill="#0000ff"/>
<rect x="128.83" y="359.1" width="4.8" height="4.8" fill="#0000ff"/>
<rect x="133.39" y="358.77" width="4.8" height="4.8" fill="#0000ff"/>
<rect x="137.95" y="358.44" width="4.8" height="4.8" fill="#0000ff"/>
<rect x="142.5" y="357.92" width="4.8" height="4.8" fill="#0000ff"/>
<rect x="147.06" y="356.62" width="4.8" height="4.8" fill="#0000ff"/>
<rect x="151.62" y="355.33" width="4.8" height="4.8" fill="#0000ff"/>
<rect x="156.18" y="354.26" width="4.8" height="4.8" fill="#0000ff"/>
<rect x="160.74" y="353.2" width="4.8" height="4.8" fill="#0000ff"/>
<rect x="165.3" y="350.96" width="4.8" height="4.8" fill="#0000ff"/>
<rect x="169.85" y="348.28" width="4.8" height="4.8" fill="#0000ff"/>
<rect x="174.41" y="345.17" width="4.8" height="4.8" fill="#0000ff"/>
<rect x="178.97" y="340.88" width="4.8" height="4.8" fill="#0000ff"/>
<rect x="183.53" y="336.37" width="4.8" height="4.8" fill="#0000ff"/>
<rect x="188.09" y="331.18" width="4.8" height="4.8" fill="#0000ff"/>
<rect x="192.65" y="325.96" width="4.8" height="4.8" fill="#0000ff"/>
<rect x="197.2" y="322.79" width="4.8" height="4.8" fill="#0000ff"/>
<rect x="201.76" y="319.48" width="4.8" height="4.8" fill="#0000ff"/>
<rect x="206.32" y="316" width="4.8" height="4.8" fill="#0000ff"/>
<rect x="210.88" y="311.75" width="4.8" height="4.8" fill="#0000ff"/>
<rect x="215.44" y="307.68" width="4.8" height="4.8" fill="#0000ff"/>
<rect x="220" y="302.78" width="4.8" height="4.8" fill="#0000ff"/>
<rect x="224.55" y="297.83" width="4.8" height="4.8" fill="#0000ff"/>
<rect x="229.11" y="292.46" width="4.8" height="4.8" fill="#0000ff"/>
<rect x="233.67" y="286.81" width="4.8" height="4.8" fill="#0000ff"/>
<rect x="238.23" y="280.59" width="4.8" height="4.8" fill="#0000ff"/>
<rect x="242.79" y="274.76" width="4.8" height="4.8" fill="#0000ff"/>
<polyline points="54.95,362.09 66.59,364.45 90.62,369.61 116.17,373.91 140.96,375.5 166.56,374.9 192.06,372.02 216.65,368.62 242.15,362.77" fill="none" stroke="#000" stroke-width="1.6" stroke-linejoin="round"/>
<circle cx="54.95" cy="362.09" r="2.6" fill="#000"/>
<circle cx="66.59" cy="364.45" r="2.6" fill="#000"/>
<circle cx="90.62" cy="369.61" r="2.6" fill="#000"/>
<circle cx="116.17" cy="373.91" r="2.6" fill="#000"/>
<circle cx="140.96" cy="375.5" r="2.6" fill="#000"/>
<circle cx="166.56" cy="374.9" r="2.6" fill="#000"/>
<circle cx="192.06" cy="372.02" r="2.6" fill="#000"/>
<circle cx="216.65" cy="368.62" r="2.6" fill="#000"/>
<circle cx="242.15" cy="362.77" r="2.6" fill="#000"/>
<polyline points="54.95,349.83 67.09,341.66 90.87,335.64 116.17,345.53 140.96,350.26 166.56,343.81 192.06,325.32 216.65,299.52 242.66,262.97" fill="none" stroke="#ff0000" stroke-width="1.7" stroke-linejoin="round"/>
<polygon points="54.95,346.28 58.35,352.2 51.55,352.2" fill="#ff0000"/>
<polygon points="67.09,338.11 70.49,344.03 63.69,344.03" fill="#ff0000"/>
<polygon points="90.87,332.09 94.27,338.01 87.47,338.01" fill="#ff0000"/>
<polygon points="116.17,341.98 119.57,347.9 112.77,347.9" fill="#ff0000"/>
<polygon points="140.96,346.71 144.36,352.63 137.56,352.63" fill="#ff0000"/>
<polygon points="166.56,340.26 169.96,346.18 163.16,346.18" fill="#ff0000"/>
<polygon points="192.06,321.77 195.46,327.69 188.66,327.69" fill="#ff0000"/>
<polygon points="216.65,295.97 220.05,301.89 213.25,301.89" fill="#ff0000"/>
<polygon points="242.66,259.42 246.06,265.34 239.26,265.34" fill="#ff0000"/>
<rect x="169" y="214.6" width="82.6" height="35.6" fill="#fff" stroke="#333" stroke-width="1"/>
<line x1="169.5" y1="221.6" x2="191" y2="221.6" stroke="#0000ff" stroke-width="1.7" />
<rect x="177.7" y="219.3" width="4.6" height="4.6" fill="#0000ff"/>
<text x="193" y="224.8" font-family="Liberation Sans, sans-serif" font-size="8.9" font-weight="bold" text-anchor="start" fill="#000" >PbTe-NW [28]</text>
<line x1="169.5" y1="232.75" x2="191" y2="232.75" stroke="#000000" stroke-width="1.7" />
<circle cx="180" cy="232.75" r="2.5" fill="#000000"/>
<text x="193" y="235.95" font-family="Liberation Sans, sans-serif" font-size="8.9" font-weight="bold" text-anchor="start" fill="#000" >Sample A(Aq)</text>
<line x1="169.5" y1="243.9" x2="191" y2="243.9" stroke="#ff0000" stroke-width="1.7" />
<polygon points="180,240.45 183.3,246.2 176.7,246.2" fill="#ff0000"/>
<text x="193" y="247.1" font-family="Liberation Sans, sans-serif" font-size="8.9" font-weight="bold" text-anchor="start" fill="#000" >Sample B(Hy)</text>
<text x="217.5" y="271.9" font-family="Liberation Sans, sans-serif" font-size="17.2" font-weight="normal" text-anchor="middle" fill="#000" stroke="#000" stroke-width="0.9">(c)</text>
<text x="149.5" y="410.6" font-family="Liberation Sans, sans-serif" font-size="11.3" font-weight="bold" text-anchor="middle" fill="#000" >Temperature (K)</text>
<text x="18.2" y="297.7" font-family="Liberation Sans, sans-serif" font-size="11.2" font-weight="bold" text-anchor="middle" fill="#000" transform="rotate(-90 18.2 297.7)"  textLength="172.2" lengthAdjust="spacingAndGlyphs">Electrical conductivity (10<tspan font-size="7.5" dy="-4">3</tspan><tspan dy="4">Sm</tspan><tspan font-size="7.5" dy="-4">-1</tspan><tspan dy="4">)</tspan></text>
<rect x="64.4" y="217.4" width="92.8" height="75.4" fill="#fff" stroke="none" stroke-width="1"/>
<line x1="64.4" y1="292.8" x2="62.4" y2="292.8" stroke="#000" stroke-width="0.8" />
<text x="62.2" y="295.1" font-family="Liberation Sans, sans-serif" font-size="6.4" font-weight="normal" text-anchor="end" fill="#000" stroke="#000" stroke-width="0.25">0</text>
<line x1="64.4" y1="276.69" x2="62.4" y2="276.69" stroke="#000" stroke-width="0.8" />
<text x="62.2" y="278.99" font-family="Liberation Sans, sans-serif" font-size="6.4" font-weight="normal" text-anchor="end" fill="#000" stroke="#000" stroke-width="0.25">3</text>
<line x1="64.4" y1="260.58" x2="62.4" y2="260.58" stroke="#000" stroke-width="0.8" />
<text x="62.2" y="262.88" font-family="Liberation Sans, sans-serif" font-size="6.4" font-weight="normal" text-anchor="end" fill="#000" stroke="#000" stroke-width="0.25">6</text>
<line x1="64.4" y1="244.47" x2="62.4" y2="244.47" stroke="#000" stroke-width="0.8" />
<text x="62.2" y="246.77" font-family="Liberation Sans, sans-serif" font-size="6.4" font-weight="normal" text-anchor="end" fill="#000" stroke="#000" stroke-width="0.25">9</text>
<line x1="64.4" y1="228.36" x2="62.4" y2="228.36" stroke="#000" stroke-width="0.8" />
<text x="62.2" y="230.66" font-family="Liberation Sans, sans-serif" font-size="6.4" font-weight="normal" text-anchor="end" fill="#000" stroke="#000" stroke-width="0.25">12</text>
<line x1="68.82" y1="292.8" x2="68.82" y2="294.8" stroke="#000" stroke-width="0.8" />
<text x="68.82" y="300.6" font-family="Liberation Sans, sans-serif" font-size="6.4" font-weight="normal" text-anchor="middle" fill="#000" stroke="#000" stroke-width="0.25">300</text>
<line x1="90.91" y1="292.8" x2="90.91" y2="294.8" stroke="#000" stroke-width="0.8" />
<text x="90.91" y="300.6" font-family="Liberation Sans, sans-serif" font-size="6.4" font-weight="normal" text-anchor="middle" fill="#000" stroke="#000" stroke-width="0.25">400</text>
<line x1="113.01" y1="292.8" x2="113.01" y2="294.8" stroke="#000" stroke-width="0.8" />
<text x="113.01" y="300.6" font-family="Liberation Sans, sans-serif" font-size="6.4" font-weight="normal" text-anchor="middle" fill="#000" stroke="#000" stroke-width="0.25">500</text>
<line x1="135.1" y1="292.8" x2="135.1" y2="294.8" stroke="#000" stroke-width="0.8" />
<text x="135.1" y="300.6" font-family="Liberation Sans, sans-serif" font-size="6.4" font-weight="normal" text-anchor="middle" fill="#000" stroke="#000" stroke-width="0.25">600</text>
<line x1="157.2" y1="292.8" x2="157.2" y2="294.8" stroke="#000" stroke-width="0.8" />
<text x="157.2" y="300.6" font-family="Liberation Sans, sans-serif" font-size="6.4" font-weight="normal" text-anchor="middle" fill="#000" stroke="#000" stroke-width="0.25">700</text>
<line x1="73.68" y1="217.4" x2="73.68" y2="219" stroke="#000" stroke-width="0.7" />
<line x1="82.96" y1="217.4" x2="82.96" y2="219.6" stroke="#000" stroke-width="0.7" />
<line x1="92.24" y1="217.4" x2="92.24" y2="219" stroke="#000" stroke-width="0.7" />
<line x1="101.52" y1="217.4" x2="101.52" y2="219.6" stroke="#000" stroke-width="0.7" />
<line x1="110.8" y1="217.4" x2="110.8" y2="219" stroke="#000" stroke-width="0.7" />
<line x1="120.08" y1="217.4" x2="120.08" y2="219.6" stroke="#000" stroke-width="0.7" />
<line x1="129.36" y1="217.4" x2="129.36" y2="219" stroke="#000" stroke-width="0.7" />
<line x1="138.64" y1="217.4" x2="138.64" y2="219.6" stroke="#000" stroke-width="0.7" />
<line x1="147.92" y1="217.4" x2="147.92" y2="219" stroke="#000" stroke-width="0.7" />
<line x1="157.2" y1="224.94" x2="155.6" y2="224.94" stroke="#000" stroke-width="0.7" />
<line x1="157.2" y1="232.48" x2="155" y2="232.48" stroke="#000" stroke-width="0.7" />
<line x1="157.2" y1="240.02" x2="155.6" y2="240.02" stroke="#000" stroke-width="0.7" />
<line x1="157.2" y1="247.56" x2="155" y2="247.56" stroke="#000" stroke-width="0.7" />
<line x1="157.2" y1="255.1" x2="155.6" y2="255.1" stroke="#000" stroke-width="0.7" />
<line x1="157.2" y1="262.64" x2="155" y2="262.64" stroke="#000" stroke-width="0.7" />
<line x1="157.2" y1="270.18" x2="155.6" y2="270.18" stroke="#000" stroke-width="0.7" />
<line x1="157.2" y1="277.72" x2="155" y2="277.72" stroke="#000" stroke-width="0.7" />
<line x1="157.2" y1="285.26" x2="155.6" y2="285.26" stroke="#000" stroke-width="0.7" />
<rect x="64.4" y="217.4" width="92.8" height="75.4" fill="none" stroke="#000" stroke-width="1.3"/>
<polyline points="74.34,224.92 84.95,256.82 96.66,273.47 107.26,279.59 118.09,282.92 129.14,282.92 139.97,279.59 145.49,278.41 150.57,275.4" fill="none" stroke="#22aa22" stroke-width="1.1" stroke-linejoin="round"/>
<rect x="72.89" y="223.47" width="2.9" height="2.9" fill="#119911"/>
<rect x="83.5" y="255.37" width="2.9" height="2.9" fill="#119911"/>
<rect x="95.21" y="272.02" width="2.9" height="2.9" fill="#119911"/>
<rect x="105.81" y="278.14" width="2.9" height="2.9" fill="#119911"/>
<rect x="116.64" y="281.47" width="2.9" height="2.9" fill="#119911"/>
<rect x="127.69" y="281.47" width="2.9" height="2.9" fill="#119911"/>
<rect x="138.52" y="278.14" width="2.9" height="2.9" fill="#119911"/>
<rect x="144.04" y="276.96" width="2.9" height="2.9" fill="#119911"/>
<rect x="149.12" y="273.95" width="2.9" height="2.9" fill="#119911"/>
<rect x="81.5" y="218.8" width="73.4" height="9.2" fill="#fff" stroke="#888" stroke-width="0.7"/>
<line x1="82.5" y1="224.3" x2="90.5" y2="224.3" stroke="#22aa22" stroke-width="0.9" />
<rect x="85.3" y="223.1" width="2.4" height="2.4" fill="#119911"/>
<text x="92.8" y="226.6" font-family="Liberation Sans, sans-serif" font-size="6.3" font-weight="bold" text-anchor="start" fill="#ff0000" >PbTe Bulk Ingot [27]</text>
<text x="111" y="306.4" font-family="Liberation Sans, sans-serif" font-size="6.6" font-weight="normal" text-anchor="middle" fill="#000" stroke="#000" stroke-width="0.25" textLength="49.3" lengthAdjust="spacingAndGlyphs">Temperature (K)</text>
<text x="53.4" y="259.8" font-family="Liberation Sans, sans-serif" font-size="6" font-weight="normal" text-anchor="middle" fill="#000" transform="rotate(-90 53.4 259.8)" stroke="#000" stroke-width="0.2" textLength="85" lengthAdjust="spacingAndGlyphs">Electrical conductivity (10<tspan font-size="4.2" dy="-2.2">3</tspan><tspan dy="2.2">Sm</tspan><tspan font-size="4.2" dy="-2.2">-1</tspan><tspan dy="2.2">)</tspan></text>
<circle cx="1.6" cy="222" r="0.7" fill="#777"/>
<line x1="303.6" y1="384.6" x2="301.4" y2="384.6" stroke="#000" stroke-width="1.2" />
<line x1="303.6" y1="374.48" x2="300" y2="374.48" stroke="#000" stroke-width="1.4" />
<text x="297.7" y="377.58" font-family="Liberation Sans, sans-serif" font-size="9.6" font-weight="bold" text-anchor="end" fill="#000" >0</text>
<line x1="303.6" y1="364.35" x2="301.4" y2="364.35" stroke="#000" stroke-width="1.2" />
<line x1="303.6" y1="354.23" x2="300" y2="354.23" stroke="#000" stroke-width="1.4" />
<text x="297.7" y="357.33" font-family="Liberation Sans, sans-serif" font-size="9.6" font-weight="bold" text-anchor="end" fill="#000" >50</text>
<line x1="303.6" y1="344.11" x2="301.4" y2="344.11" stroke="#000" stroke-width="1.2" />
<line x1="303.6" y1="333.98" x2="300" y2="333.98" stroke="#000" stroke-width="1.4" />
<text x="297.7" y="337.08" font-family="Liberation Sans, sans-serif" font-size="9.6" font-weight="bold" text-anchor="end" fill="#000" >100</text>
<line x1="303.6" y1="323.86" x2="301.4" y2="323.86" stroke="#000" stroke-width="1.2" />
<line x1="303.6" y1="313.74" x2="300" y2="313.74" stroke="#000" stroke-width="1.4" />
<text x="297.7" y="316.84" font-family="Liberation Sans, sans-serif" font-size="9.6" font-weight="bold" text-anchor="end" fill="#000" >150</text>
<line x1="303.6" y1="303.61" x2="301.4" y2="303.61" stroke="#000" stroke-width="1.2" />
<line x1="303.6" y1="293.49" x2="300" y2="293.49" stroke="#000" stroke-width="1.4" />
<text x="297.7" y="296.59" font-family="Liberation Sans, sans-serif" font-size="9.6" font-weight="bold" text-anchor="end" fill="#000" >200</text>
<line x1="303.6" y1="283.36" x2="301.4" y2="283.36" stroke="#000" stroke-width="1.2" />
<line x1="303.6" y1="273.24" x2="300" y2="273.24" stroke="#000" stroke-width="1.4" />
<text x="297.7" y="276.34" font-family="Liberation Sans, sans-serif" font-size="9.6" font-weight="bold" text-anchor="end" fill="#000" >250</text>
<line x1="303.6" y1="263.12" x2="301.4" y2="263.12" stroke="#000" stroke-width="1.2" />
<line x1="303.6" y1="252.99" x2="300" y2="252.99" stroke="#000" stroke-width="1.4" />
<text x="297.7" y="256.09" font-family="Liberation Sans, sans-serif" font-size="9.6" font-weight="bold" text-anchor="end" fill="#000" >300</text>
<line x1="303.6" y1="242.87" x2="301.4" y2="242.87" stroke="#000" stroke-width="1.2" />
<line x1="303.6" y1="232.75" x2="300" y2="232.75" stroke="#000" stroke-width="1.4" />
<text x="297.7" y="235.85" font-family="Liberation Sans, sans-serif" font-size="9.6" font-weight="bold" text-anchor="end" fill="#000" >350</text>
<line x1="303.6" y1="222.62" x2="301.4" y2="222.62" stroke="#000" stroke-width="1.2" />
<line x1="303.6" y1="212.5" x2="300" y2="212.5" stroke="#000" stroke-width="1.4" />
<text x="297.7" y="215.6" font-family="Liberation Sans, sans-serif" font-size="9.6" font-weight="bold" text-anchor="end" fill="#000" >400</text>
<line x1="313.74" y1="384.6" x2="313.74" y2="388" stroke="#000" stroke-width="1.4" />
<text x="313.74" y="397.8" font-family="Liberation Sans, sans-serif" font-size="9.6" font-weight="bold" text-anchor="middle" fill="#000" >300</text>
<line x1="326.42" y1="384.6" x2="326.42" y2="386.8" stroke="#000" stroke-width="1.2" />
<line x1="339.1" y1="384.6" x2="339.1" y2="388" stroke="#000" stroke-width="1.4" />
<text x="339.1" y="397.8" font-family="Liberation Sans, sans-serif" font-size="9.6" font-weight="bold" text-anchor="middle" fill="#000" >350</text>
<line x1="351.78" y1="384.6" x2="351.78" y2="386.8" stroke="#000" stroke-width="1.2" />
<line x1="364.46" y1="384.6" x2="364.46" y2="388" stroke="#000" stroke-width="1.4" />
<text x="364.46" y="397.8" font-family="Liberation Sans, sans-serif" font-size="9.6" font-weight="bold" text-anchor="middle" fill="#000" >400</text>
<line x1="377.14" y1="384.6" x2="377.14" y2="386.8" stroke="#000" stroke-width="1.2" />
<line x1="389.81" y1="384.6" x2="389.81" y2="388" stroke="#000" stroke-width="1.4" />
<text x="389.81" y="397.8" font-family="Liberation Sans, sans-serif" font-size="9.6" font-weight="bold" text-anchor="middle" fill="#000" >450</text>
<line x1="402.49" y1="384.6" x2="402.49" y2="386.8" stroke="#000" stroke-width="1.2" />
<line x1="415.17" y1="384.6" x2="415.17" y2="388" stroke="#000" stroke-width="1.4" />
<text x="415.17" y="397.8" font-family="Liberation Sans, sans-serif" font-size="9.6" font-weight="bold" text-anchor="middle" fill="#000" >500</text>
<line x1="427.85" y1="384.6" x2="427.85" y2="386.8" stroke="#000" stroke-width="1.2" />
<line x1="440.53" y1="384.6" x2="440.53" y2="388" stroke="#000" stroke-width="1.4" />
<text x="440.53" y="397.8" font-family="Liberation Sans, sans-serif" font-size="9.6" font-weight="bold" text-anchor="middle" fill="#000" >550</text>
<line x1="453.21" y1="384.6" x2="453.21" y2="386.8" stroke="#000" stroke-width="1.2" />
<line x1="465.89" y1="384.6" x2="465.89" y2="388" stroke="#000" stroke-width="1.4" />
<text x="465.89" y="397.8" font-family="Liberation Sans, sans-serif" font-size="9.6" font-weight="bold" text-anchor="middle" fill="#000" >600</text>
<line x1="478.56" y1="384.6" x2="478.56" y2="386.8" stroke="#000" stroke-width="1.2" />
<line x1="491.24" y1="384.6" x2="491.24" y2="388" stroke="#000" stroke-width="1.4" />
<text x="491.24" y="397.8" font-family="Liberation Sans, sans-serif" font-size="9.6" font-weight="bold" text-anchor="middle" fill="#000" >650</text>
<line x1="503.92" y1="384.6" x2="503.92" y2="386.8" stroke="#000" stroke-width="1.2" />
<line x1="516.6" y1="384.6" x2="516.6" y2="388" stroke="#000" stroke-width="1.4" />
<text x="516.6" y="397.8" font-family="Liberation Sans, sans-serif" font-size="9.6" font-weight="bold" text-anchor="middle" fill="#000" >700</text>
<line x1="324.9" y1="212.5" x2="324.9" y2="215.3" stroke="#000" stroke-width="1.3" />
<line x1="346.2" y1="212.5" x2="346.2" y2="216.5" stroke="#000" stroke-width="1.3" />
<line x1="367.5" y1="212.5" x2="367.5" y2="215.3" stroke="#000" stroke-width="1.3" />
<line x1="388.8" y1="212.5" x2="388.8" y2="216.5" stroke="#000" stroke-width="1.3" />
<line x1="410.1" y1="212.5" x2="410.1" y2="215.3" stroke="#000" stroke-width="1.3" />
<line x1="431.4" y1="212.5" x2="431.4" y2="216.5" stroke="#000" stroke-width="1.3" />
<line x1="452.7" y1="212.5" x2="452.7" y2="215.3" stroke="#000" stroke-width="1.3" />
<line x1="474" y1="212.5" x2="474" y2="216.5" stroke="#000" stroke-width="1.3" />
<line x1="495.3" y1="212.5" x2="495.3" y2="215.3" stroke="#000" stroke-width="1.3" />
<line x1="516.6" y1="229.71" x2="513.8" y2="229.71" stroke="#000" stroke-width="1.3" />
<line x1="516.6" y1="246.92" x2="512.6" y2="246.92" stroke="#000" stroke-width="1.3" />
<line x1="516.6" y1="264.13" x2="513.8" y2="264.13" stroke="#000" stroke-width="1.3" />
<line x1="516.6" y1="281.34" x2="512.6" y2="281.34" stroke="#000" stroke-width="1.3" />
<line x1="516.6" y1="298.55" x2="513.8" y2="298.55" stroke="#000" stroke-width="1.3" />
<line x1="516.6" y1="315.76" x2="512.6" y2="315.76" stroke="#000" stroke-width="1.3" />
<line x1="516.6" y1="332.97" x2="513.8" y2="332.97" stroke="#000" stroke-width="1.3" />
<line x1="516.6" y1="350.18" x2="512.6" y2="350.18" stroke="#000" stroke-width="1.3" />
<line x1="516.6" y1="367.39" x2="513.8" y2="367.39" stroke="#000" stroke-width="1.3" />
<rect x="303.6" y="212.5" width="213" height="172.1" fill="none" stroke="#000" stroke-width="2.2"/>
<polyline points="312.72,361.19 330.51,360.7 350.32,355.61 401.48,358.2 452.78,359.21 477.38,370.12 502.78,361.71" fill="none" stroke="#0000ff" stroke-width="1.8" stroke-linejoin="round"/>
<rect x="310.42" y="358.89" width="4.6" height="4.6" fill="#0000ff"/>
<rect x="328.21" y="358.4" width="4.6" height="4.6" fill="#0000ff"/>
<rect x="348.02" y="353.31" width="4.6" height="4.6" fill="#0000ff"/>
<rect x="399.18" y="355.9" width="4.6" height="4.6" fill="#0000ff"/>
<rect x="450.48" y="356.91" width="4.6" height="4.6" fill="#0000ff"/>
<rect x="475.08" y="367.82" width="4.6" height="4.6" fill="#0000ff"/>
<rect x="500.48" y="359.41" width="4.6" height="4.6" fill="#0000ff"/>
<polyline points="316.5,349.8 327.89,351.09 351.98,353.59 377.39,357.92 401.48,364.99 427.38,372.58 452.78,374.4 477.38,371.9 502.78,370.6" fill="none" stroke="#000" stroke-width="1.8" stroke-linejoin="round"/>
<circle cx="316.5" cy="349.8" r="2.7" fill="#000"/>
<circle cx="327.89" cy="351.09" r="2.7" fill="#000"/>
<circle cx="351.98" cy="353.59" r="2.7" fill="#000"/>
<circle cx="377.39" cy="357.92" r="2.7" fill="#000"/>
<circle cx="401.48" cy="364.99" r="2.7" fill="#000"/>
<circle cx="427.38" cy="372.58" r="2.7" fill="#000"/>
<circle cx="452.78" cy="374.4" r="2.7" fill="#000"/>
<circle cx="477.38" cy="371.9" r="2.7" fill="#000"/>
<circle cx="502.78" cy="370.6" r="2.7" fill="#000"/>
<polyline points="316.5,328.75 327.89,306.93 351.98,292.79 377.39,326.73 401.48,367.69 427.38,371.41 452.78,348.02 477.38,316.79 502.78,298.29" fill="none" stroke="#ff0000" stroke-width="1.8" stroke-linejoin="round"/>
<polygon points="316.5,325.09 320,331.18 313,331.18" fill="#ff0000"/>
<polygon points="327.89,303.28 331.39,309.37 324.39,309.37" fill="#ff0000"/>
<polygon points="351.98,289.14 355.48,295.23 348.48,295.23" fill="#ff0000"/>
<polygon points="377.39,323.07 380.89,329.16 373.89,329.16" fill="#ff0000"/>
<polygon points="401.48,364.04 404.98,370.13 397.98,370.13" fill="#ff0000"/>
<polygon points="427.38,367.76 430.88,373.85 423.88,373.85" fill="#ff0000"/>
<polygon points="452.78,344.36 456.28,350.45 449.28,350.45" fill="#ff0000"/>
<polygon points="477.38,313.14 480.88,319.23 473.88,319.23" fill="#ff0000"/>
<polygon points="502.78,294.63 506.28,300.72 499.28,300.72" fill="#ff0000"/>
<rect x="305.6" y="214.8" width="83.6" height="35.2" fill="#fff" stroke="#333" stroke-width="1"/>
<line x1="306.5" y1="221.4" x2="328.6" y2="221.4" stroke="#0000ff" stroke-width="1.7" />
<rect x="315.2" y="219.1" width="4.6" height="4.6" fill="#0000ff"/>
<text x="330.5" y="224.6" font-family="Liberation Sans, sans-serif" font-size="8.9" font-weight="bold" text-anchor="start" fill="#000" >PbTe-NW [28]</text>
<line x1="306.5" y1="232.55" x2="328.6" y2="232.55" stroke="#000000" stroke-width="1.7" />
<circle cx="317.5" cy="232.55" r="2.5" fill="#000000"/>
<text x="330.5" y="235.75" font-family="Liberation Sans, sans-serif" font-size="8.9" font-weight="bold" text-anchor="start" fill="#000" >Sample A(Aq)</text>
<line x1="306.5" y1="243.7" x2="328.6" y2="243.7" stroke="#ff0000" stroke-width="1.7" />
<polygon points="317.5,240.25 320.8,246 314.2,246" fill="#ff0000"/>
<text x="330.5" y="246.9" font-family="Liberation Sans, sans-serif" font-size="8.9" font-weight="bold" text-anchor="start" fill="#000" >Sample B(Hy)</text>
<text x="320.5" y="268.8" font-family="Liberation Sans, sans-serif" font-size="17.2" font-weight="normal" text-anchor="middle" fill="#000" stroke="#000" stroke-width="0.9">(d)</text>
<text x="410.5" y="409.4" font-family="Liberation Sans, sans-serif" font-size="11.3" font-weight="bold" text-anchor="middle" fill="#000" >Temperature (K)</text>
<text x="276.8" y="297.6" font-family="Liberation Sans, sans-serif" font-size="11.3" font-weight="bold" text-anchor="middle" fill="#000" transform="rotate(-90 276.8 297.6)"  textLength="129.2" lengthAdjust="spacingAndGlyphs">Power Factor (μW/m/K<tspan font-size="7.5" dy="-4">2</tspan><tspan dy="4">)</tspan></text>
<line x1="409.5" y1="281.2" x2="407.5" y2="281.2" stroke="#000" stroke-width="0.8" />
<text x="407.4" y="283.3" font-family="Liberation Sans, sans-serif" font-size="6" font-weight="normal" text-anchor="end" fill="#000" stroke="#000" stroke-width="0.25">0</text>
<line x1="409.5" y1="265.95" x2="407.5" y2="265.95" stroke="#000" stroke-width="0.8" />
<text x="407.4" y="268.05" font-family="Liberation Sans, sans-serif" font-size="6" font-weight="normal" text-anchor="end" fill="#000" stroke="#000" stroke-width="0.25">200</text>
<line x1="409.5" y1="250.7" x2="407.5" y2="250.7" stroke="#000" stroke-width="0.8" />
<text x="407.4" y="252.8" font-family="Liberation Sans, sans-serif" font-size="6" font-weight="normal" text-anchor="end" fill="#000" stroke="#000" stroke-width="0.25">400</text>
<line x1="409.5" y1="235.45" x2="407.5" y2="235.45" stroke="#000" stroke-width="0.8" />
<text x="407.4" y="237.55" font-family="Liberation Sans, sans-serif" font-size="6" font-weight="normal" text-anchor="end" fill="#000" stroke="#000" stroke-width="0.25">600</text>
<line x1="409.5" y1="220.2" x2="407.5" y2="220.2" stroke="#000" stroke-width="0.8" />
<text x="407.4" y="222.3" font-family="Liberation Sans, sans-serif" font-size="6" font-weight="normal" text-anchor="end" fill="#000" stroke="#000" stroke-width="0.25">800</text>
<line x1="413.57" y1="285.1" x2="413.57" y2="287.1" stroke="#000" stroke-width="0.8" />
<text x="413.57" y="292.9" font-family="Liberation Sans, sans-serif" font-size="6" font-weight="normal" text-anchor="middle" fill="#000" stroke="#000" stroke-width="0.25">300</text>
<line x1="433.93" y1="285.1" x2="433.93" y2="287.1" stroke="#000" stroke-width="0.8" />
<text x="433.93" y="292.9" font-family="Liberation Sans, sans-serif" font-size="6" font-weight="normal" text-anchor="middle" fill="#000" stroke="#000" stroke-width="0.25">400</text>
<line x1="454.29" y1="285.1" x2="454.29" y2="287.1" stroke="#000" stroke-width="0.8" />
<text x="454.29" y="292.9" font-family="Liberation Sans, sans-serif" font-size="6" font-weight="normal" text-anchor="middle" fill="#000" stroke="#000" stroke-width="0.25">500</text>
<line x1="474.64" y1="285.1" x2="474.64" y2="287.1" stroke="#000" stroke-width="0.8" />
<text x="474.64" y="292.9" font-family="Liberation Sans, sans-serif" font-size="6" font-weight="normal" text-anchor="middle" fill="#000" stroke="#000" stroke-width="0.25">600</text>
<line x1="495" y1="285.1" x2="495" y2="287.1" stroke="#000" stroke-width="0.8" />
<text x="495" y="292.9" font-family="Liberation Sans, sans-serif" font-size="6" font-weight="normal" text-anchor="middle" fill="#000" stroke="#000" stroke-width="0.25">700</text>
<line x1="418.05" y1="216.7" x2="418.05" y2="218.3" stroke="#000" stroke-width="0.7" />
<line x1="426.6" y1="216.7" x2="426.6" y2="218.9" stroke="#000" stroke-width="0.7" />
<line x1="435.15" y1="216.7" x2="435.15" y2="218.3" stroke="#000" stroke-width="0.7" />
<line x1="443.7" y1="216.7" x2="443.7" y2="218.9" stroke="#000" stroke-width="0.7" />
<line x1="452.25" y1="216.7" x2="452.25" y2="218.3" stroke="#000" stroke-width="0.7" />
<line x1="460.8" y1="216.7" x2="460.8" y2="218.9" stroke="#000" stroke-width="0.7" />
<line x1="469.35" y1="216.7" x2="469.35" y2="218.3" stroke="#000" stroke-width="0.7" />
<line x1="477.9" y1="216.7" x2="477.9" y2="218.9" stroke="#000" stroke-width="0.7" />
<line x1="486.45" y1="216.7" x2="486.45" y2="218.3" stroke="#000" stroke-width="0.7" />
<line x1="495" y1="223.54" x2="493.4" y2="223.54" stroke="#000" stroke-width="0.7" />
<line x1="495" y1="230.38" x2="492.8" y2="230.38" stroke="#000" stroke-width="0.7" />
<line x1="495" y1="237.22" x2="493.4" y2="237.22" stroke="#000" stroke-width="0.7" />
<line x1="495" y1="244.06" x2="492.8" y2="244.06" stroke="#000" stroke-width="0.7" />
<line x1="495" y1="250.9" x2="493.4" y2="250.9" stroke="#000" stroke-width="0.7" />
<line x1="495" y1="257.74" x2="492.8" y2="257.74" stroke="#000" stroke-width="0.7" />
<line x1="495" y1="264.58" x2="493.4" y2="264.58" stroke="#000" stroke-width="0.7" />
<line x1="495" y1="271.42" x2="492.8" y2="271.42" stroke="#000" stroke-width="0.7" />
<line x1="495" y1="278.26" x2="493.4" y2="278.26" stroke="#000" stroke-width="0.7" />
<rect x="409.5" y="216.7" width="85.5" height="68.4" fill="none" stroke="#000" stroke-width="1.3"/>
<polyline points="417.9,224.3 427.9,223.4 438.3,235.7 448.7,249.7 458.7,264.9 469,279 478.7,280.3 483.8,279.8 489,278.4" fill="none" stroke="#22aa22" stroke-width="1.1" stroke-linejoin="round"/>
<rect x="416.55" y="222.95" width="2.7" height="2.7" fill="#119911"/>
<rect x="426.55" y="222.05" width="2.7" height="2.7" fill="#119911"/>
<rect x="436.95" y="234.35" width="2.7" height="2.7" fill="#119911"/>
<rect x="447.35" y="248.35" width="2.7" height="2.7" fill="#119911"/>
<rect x="457.35" y="263.55" width="2.7" height="2.7" fill="#119911"/>
<rect x="467.65" y="277.65" width="2.7" height="2.7" fill="#119911"/>
<rect x="477.35" y="278.95" width="2.7" height="2.7" fill="#119911"/>
<rect x="482.45" y="278.45" width="2.7" height="2.7" fill="#119911"/>
<rect x="487.65" y="277.05" width="2.7" height="2.7" fill="#119911"/>
<rect x="431" y="218.6" width="60" height="5.8" fill="#fff" stroke="#888" stroke-width="0.6"/>
<line x1="431.8" y1="221.5" x2="437.5" y2="221.5" stroke="#22aa22" stroke-width="0.8" />
<rect x="433.7" y="220.6" width="1.8" height="1.8" fill="#119911"/>
<text x="439.6" y="223.6" font-family="Liberation Sans, sans-serif" font-size="5.2" font-weight="bold" text-anchor="start" fill="#ff0000"  textLength="50.5" lengthAdjust="spacingAndGlyphs">PbTe Bulk Ingot [27]</text>
<text x="452.4" y="299.9" font-family="Liberation Sans, sans-serif" font-size="6" font-weight="normal" text-anchor="middle" fill="#000" stroke="#000" stroke-width="0.25" textLength="41.9" lengthAdjust="spacingAndGlyphs">Temperature (K)</text>
<text x="396.6" y="251" font-family="Liberation Sans, sans-serif" font-size="5.9" font-weight="normal" text-anchor="middle" fill="#000" transform="rotate(-90 396.6 251)" stroke="#000" stroke-width="0.2" textLength="64" lengthAdjust="spacingAndGlyphs">Power factor (μW/m/K<tspan font-size="4" dy="-2">2</tspan><tspan dy="2">)</tspan></text>
</svg>
</body></html>
